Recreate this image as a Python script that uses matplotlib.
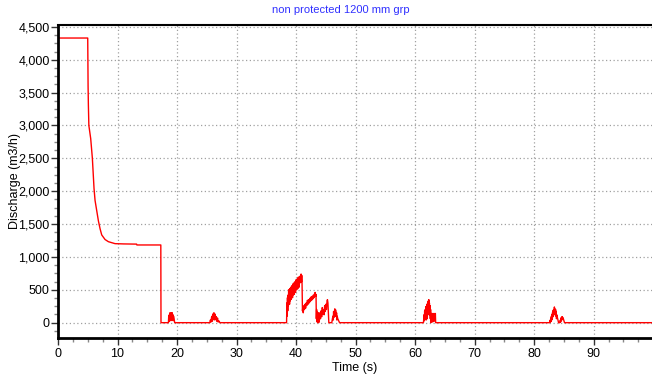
import numpy as np
import matplotlib
matplotlib.use('Agg')
import matplotlib.pyplot as plt
from matplotlib.ticker import MultipleLocator, FuncFormatter

plt.rcParams['font.family'] = ['Liberation Sans', 'DejaVu Sans']

# ═══ data ═══
# initial plateau + drawdown
t_main = [0.0, 4.99, 5.05, 5.1, 5.18, 5.49, 5.77, 6.05, 6.22, 6.5, 6.78, 7.06, 7.34,
          7.9, 8.46, 9.58, 11.0, 13.2, 13.25, 17.27, 17.3]
q_main = [4330, 4330, 3600, 3310, 3000, 2800, 2500, 2040, 1860, 1710, 1550, 1430, 1335,
          1265, 1232, 1202, 1198, 1195, 1182, 1182, 0]

# surge bursts (t, Q) after valve closure
t_b1 = [17.3, 18.55, 18.6, 18.65, 18.7, 18.75, 18.8, 18.85, 18.9, 18.95, 19.0, 19.05,
        19.1, 19.15, 19.2, 19.25, 19.3, 19.35, 19.4, 19.5, 19.6]
q_b1 = [0, 0, 100, 20, 120, 40, 150, 60, 130, 30, 150, 70, 140, 40, 150, 80, 120, 30,
        100, 60, 0]

t_b2 = [19.6, 25.5, 25.6, 25.7, 25.8, 25.85, 25.9, 25.95, 26.0, 26.05, 26.1, 26.15,
        26.2, 26.25, 26.3, 26.35, 26.4, 26.5, 26.6, 26.7, 26.8, 26.9, 27.0, 27.2]
q_b2 = [0, 0, 40, 10, 80, 20, 100, 30, 120, 50, 140, 60, 150, 70, 120, 40, 130, 60,
        90, 20, 70, 10, 30, 0]

t_b3 = [27.2, 38.4, 38.45, 38.5, 38.55, 38.6, 38.65, 38.7, 38.75, 38.8, 38.85, 38.9,
        38.95, 39.0, 39.05, 39.1, 39.15, 39.2, 39.25, 39.3, 39.35, 39.4, 39.45, 39.5,
        39.55, 39.6, 39.65, 39.7, 39.75, 39.8, 39.85, 39.9, 39.95, 40.0, 40.05, 40.1,
        40.15, 40.2, 40.25, 40.3, 40.35, 40.4, 40.45, 40.5, 40.55, 40.6, 40.65, 40.7,
        40.75, 40.8, 40.84, 40.9, 40.95, 41.0, 41.07, 41.15, 41.2, 41.3, 41.4, 41.5,
        41.6, 41.7, 41.8, 41.9, 42.0, 42.1, 42.2, 42.3, 42.4, 42.5, 42.6, 42.7, 42.8,
        42.9, 43.0, 43.1, 43.2, 43.3, 43.35, 43.4, 43.45, 43.5, 43.55, 43.6, 43.65,
        43.7, 43.75, 43.8, 43.85, 43.9, 44.0, 44.1, 44.2, 44.3, 44.4, 44.5, 44.6,
        44.7, 44.8, 44.9, 45.0, 45.1, 45.2, 45.27, 45.35, 45.4, 45.5, 45.6, 46.0,
        46.1, 46.2, 46.25, 46.3, 46.35, 46.4, 46.5, 46.55, 46.6, 46.7, 46.75, 46.8,
        46.85, 46.9, 47.0, 47.1, 47.3]
q_b3 = [0, 0, 300, 100, 380, 180, 420, 250, 500, 300, 470, 280, 520, 330, 480, 350,
        540, 360, 560, 420, 520, 380, 580, 420, 600, 470, 560, 430, 620, 480, 600, 460,
        650, 520, 600, 500, 660, 540, 620, 520, 690, 560, 650, 540, 700, 600, 680, 620,
        720, 640, 740, 620, 720, 600, 180, 260, 150, 240, 200, 280, 220, 300, 260, 340,
        280, 350, 300, 370, 320, 390, 340, 400, 360, 420, 380, 440, 460, 400, 430, 60,
        200, 20, 160, 0, 120, 40, 150, 0, 100, 30, 150, 60, 180, 90, 230, 130, 200, 120,
        260, 170, 280, 200, 330, 350, 300, 200, 0, 0, 0, 60, 100, 40, 170, 80, 120, 210,
        100, 200, 180, 90, 150, 40, 100, 60, 40, 0]

t_b4 = [47.3, 61.4, 61.5, 61.55, 61.6, 61.65, 61.7, 61.75, 61.8, 61.85, 61.9, 61.95,
        62.0, 62.05, 62.1, 62.15, 62.2, 62.25, 62.3, 62.35, 62.4, 62.45, 62.5, 62.55,
        62.6, 62.65, 62.7, 62.75, 62.8, 62.85, 62.9, 62.95, 63.0, 63.05, 63.1, 63.15,
        63.2, 63.25, 63.3, 63.35, 63.4, 63.45]
q_b4 = [0, 0, 120, 30, 180, 60, 200, 80, 240, 40, 250, 100, 280, 60, 300, 120, 330, 150,
        350, 180, 300, 120, 260, 60, 200, 0, 140, 20, 140, 40, 130, 10, 140, 60, 130, 20,
        140, 50, 120, 30, 140, 0]

t_b5 = [63.45, 82.6, 82.7, 82.75, 82.8, 82.85, 82.9, 82.95, 83.0, 83.05, 83.1, 83.15,
        83.2, 83.25, 83.3, 83.35, 83.4, 83.45, 83.5, 83.55, 83.6, 83.65, 83.7, 83.75,
        83.8, 83.9, 84.0, 84.1, 84.3, 84.4, 84.45, 84.5, 84.55, 84.6, 84.65, 84.7,
        84.75, 84.8, 84.9, 85.0, 85.1, 99.8]
q_b5 = [0, 0, 40, 10, 70, 20, 100, 40, 130, 60, 160, 90, 190, 110, 200, 130, 239, 150,
        210, 120, 200, 100, 170, 60, 120, 80, 40, 0, 0, 40, 10, 70, 30, 80, 40, 92, 50,
        80, 60, 30, 0, 0]

t = np.concatenate([t_main, t_b1, t_b2, t_b3, t_b4, t_b5])
q = np.concatenate([q_main, q_b1, q_b2, q_b3, q_b4, q_b5])

fig = plt.figure(figsize=(6.52, 3.77), dpi=100)
ax = fig.add_axes([0.089, 0.104, 0.911, 0.830])

ax.plot(t, q, color='#ff0000', lw=1.0)

ax.set_xlim(0, 99.8)
ax.set_ylim(-230, 4530)
ax.xaxis.set_major_locator(MultipleLocator(10))
ax.xaxis.set_minor_locator(MultipleLocator(2.5))
ax.yaxis.set_major_locator(MultipleLocator(500))
ax.yaxis.set_minor_locator(MultipleLocator(125))
ax.yaxis.set_major_formatter(FuncFormatter(lambda v, p: f'{int(v):,}'))
ax.set_xticks([0, 10, 20, 30, 40, 50, 60, 70, 80, 90])

ax.grid(True, which='major', color='#a0a0a0', ls=(0, (1, 2)), lw=0.9)
ax.tick_params(which='major', direction='out', length=5, width=1, labelsize=9, color='#333333')
ax.tick_params(which='minor', direction='out', length=3, width=1, color='#888888')
ax.tick_params(axis='x', pad=2)
ax.tick_params(axis='y', pad=1)

ax.spines['left'].set_linewidth(2)
ax.spines['bottom'].set_linewidth(2)
ax.spines['top'].set_linewidth(1.5)
ax.spines['right'].set_visible(False)

ax.set_xlabel('Time (s)', fontsize=9, labelpad=2)
ax.set_ylabel('Discharge (m3/h)', fontsize=9, labelpad=-2)
fig.text(0.522, 0.973, 'non protected 1200 mm grp', color='#3030ff', fontsize=8,
         ha='center', va='center')

fig.savefig('out.png', dpi=100, facecolor='white')
